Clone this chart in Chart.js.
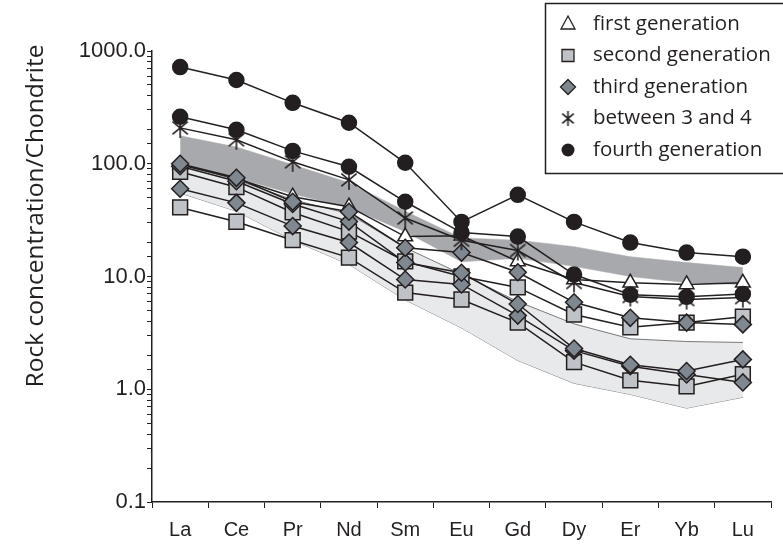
<!DOCTYPE html>
<html>
<head>
<meta charset="utf-8">
<script src="https://cdn.jsdelivr.net/npm/chart.js@4.4.1/dist/chart.umd.min.js"></script>
<style>
  html, body { margin: 0; padding: 0; background: #fff; }
</style>
</head>
<body>
<canvas id="myChart" width="783" height="550"></canvas>
<script>
// x-axis labels
var elements = ['La', 'Ce', 'Pr', 'Nd', 'Sm', 'Eu', 'Gd', 'Dy', 'Er', 'Yb', 'Lu'];

// shaded ranges
var darkTop    = [177, 141, 98, 68, 38, 22, 21, 18.4, 15, 13.3, 12];
var darkBottom = [98, 75, 54, 41, 25, 13.5, 14.5, 12.3, 10, 8.8, 8.5];
var lightTop    = [100, 72, 48, 36, 18, 10.5, 6, 3.8, 2.8, 2.65, 2.6];
var lightBottom = [55, 38, 21, 12.8, 6.2, 3.5, 1.8, 1.13, 0.9, 0.68, 0.85];

// first generation
var first1 = [98, 74, 51, 41.6, 22.6, 23, 13.6, 9.4, 8.8, 8.5, 8.8];
// second generation
var second1 = [85, 62, 37, 25, 13.6, 10, 8, 4.6, 3.55, 3.9, 4.4];
var second2 = [41, 30.6, 21, 14.7, 7.2, 6.25, 3.9, 1.74, 1.2, 1.06, 1.36];
// third generation
var third1 = [100, 75, 46, 37.5, 18, 16.3, 10.9, 5.9, 4.3, 3.9, 3.76];
var third2 = [95, 70, 44, 30.7, 13.3, 10.8, 5.7, 2.3, 1.65, 1.45, 1.84];
var third3 = [60, 45, 28, 20, 9.4, 8.5, 4.5, 2.2, 1.6, 1.35, 1.15];
// between 3 and 4
var between1 = [208, 163, 104, 72, 33, 21, 17, 8.85, 6.65, 6.25, 6.5];
// fourth generation
var fourth1 = [720, 553, 347, 231, 102, 30.5, 53, 30.5, 20, 16.3, 15];
var fourth2 = [261, 200, 130, 94, 46, 24.5, 22.6, 10.4, 6.9, 6.6, 7.0];

var INK = '#231f20';
var SQUARE = '#bfc2c7';
var DIAMOND = '#7f8890';

// six-armed asterisk marker
function makeAsterisk(size, lw) {
  var c = document.createElement('canvas');
  c.width = c.height = size;
  var g = c.getContext('2d');
  var m = size / 2, r = size / 2 - 1;
  var dx = r * Math.cos(Math.PI / 4.5), dy = r * Math.sin(Math.PI / 4.5);
  g.strokeStyle = INK;
  g.lineWidth = lw;
  g.beginPath();
  g.moveTo(m, m - r); g.lineTo(m, m + r);
  g.moveTo(m - dx, m - dy); g.lineTo(m + dx, m + dy);
  g.moveTo(m + dx, m - dy); g.lineTo(m - dx, m + dy);
  g.stroke();
  return c;
}
var asterisk = makeAsterisk(22, 1.6);
var asteriskSmall = makeAsterisk(17, 1.6);

var markers = {
  first:   { pointStyle: 'triangle', pointRadius: 8.5, pointBackgroundColor: '#ffffff' },
  second:  { pointStyle: 'rect', pointRadius: 10.5, pointBackgroundColor: SQUARE },
  third:   { pointStyle: 'rectRot', pointRadius: 8.5, pointBackgroundColor: DIAMOND },
  between: { pointStyle: asterisk, pointRadius: 10, pointBackgroundColor: INK },
  fourth:  { pointStyle: 'circle', pointRadius: 7.5, pointBackgroundColor: INK }
};

var groups = [
  ['first', [first1]],
  ['second', [second1, second2]],
  ['third', [third1, third2, third3]],
  ['between', [between1]],
  ['fourth', [fourth1, fourth2]]
];

var datasets = [
  { data: darkTop, fill: '+1', backgroundColor: '#a7a9ac', borderColor: '#a7a9ac', borderWidth: 0.5, pointRadius: 0, order: 9 },
  { data: darkBottom, fill: false, borderColor: '#a7a9ac', borderWidth: 0.5, pointRadius: 0, order: 9 },
  { data: lightTop, fill: '+1', backgroundColor: '#e8e9ea', borderColor: '#58595b', borderWidth: 0.8, pointRadius: 0, order: 10 },
  { data: lightBottom, fill: false, borderColor: '#58595b', borderWidth: 0.8, pointRadius: 0, order: 10 }
];

groups.forEach(function (grp, gi) {
  var m = markers[grp[0]];
  grp[1].forEach(function (vals) {
    // line only
    datasets.push({ data: vals, borderColor: INK, borderWidth: 1.5, pointRadius: 0, fill: false, order: 6 });
    // markers on top, later generations above earlier ones
    datasets.push({
      data: vals, showLine: false, fill: false,
      pointStyle: m.pointStyle, pointRadius: m.pointRadius,
      pointBackgroundColor: m.pointBackgroundColor,
      pointBorderColor: INK, pointBorderWidth: 1.5, order: 5 - gi
    });
  });
});

function drawSymbol(ctx, kind, x, y) {
  ctx.save();
  ctx.strokeStyle = INK;
  ctx.lineWidth = 1.3;
  ctx.beginPath();
  if (kind === 'first') {
    ctx.moveTo(x, y - 8); ctx.lineTo(x + 7, y + 5); ctx.lineTo(x - 7, y + 5); ctx.closePath();
    ctx.fillStyle = '#fff'; ctx.fill(); ctx.stroke();
  } else if (kind === 'second') {
    ctx.rect(x - 6, y - 6, 12, 12);
    ctx.fillStyle = SQUARE; ctx.fill(); ctx.stroke();
  } else if (kind === 'third') {
    ctx.moveTo(x, y - 7.5); ctx.lineTo(x + 7.5, y); ctx.lineTo(x, y + 7.5); ctx.lineTo(x - 7.5, y); ctx.closePath();
    ctx.fillStyle = DIAMOND; ctx.fill(); ctx.stroke();
  } else if (kind === 'between') {
    ctx.drawImage(asteriskSmall, x - 8.5, y - 8.5);
  } else {
    ctx.arc(x, y, 6.5, 0, Math.PI * 2);
    ctx.fillStyle = INK; ctx.fill();
  }
  ctx.restore();
}

var legendNames = {
  first: 'first generation', second: 'second generation', third: 'third generation',
  between: 'between 3 and 4', fourth: 'fourth generation'
};

var extras = {
  id: 'extras',
  afterDraw: function (chart) {
    var ctx = chart.ctx;
    ctx.save();
    // y title
    ctx.fillStyle = INK;
    ctx.font = '24.5px "Open Sans"';
    ctx.textAlign = 'center';
    ctx.textBaseline = 'middle';
    ctx.translate(36, 216);
    ctx.rotate(-Math.PI / 2);
    ctx.fillText('Rock concentration/Chondrite', 0, 0);
    ctx.restore();

    // legend box
    ctx.save();
    ctx.fillStyle = '#fff';
    ctx.fillRect(545, 3, 260, 171);
    ctx.strokeStyle = INK;
    ctx.lineWidth = 1.5;
    ctx.strokeRect(545.5, 3.5, 260, 170);
    ctx.font = '20.5px "Open Sans"';
    ctx.fillStyle = INK;
    ctx.textAlign = 'left';
    ctx.textBaseline = 'middle';
    groups.forEach(function (grp, i) {
      var y = 24 + i * 31.5;
      drawSymbol(ctx, grp[0], 568, y);
      ctx.fillText(legendNames[grp[0]], 593, y);
    });
    ctx.restore();
  }
};

new Chart(document.getElementById('myChart'), {
  type: 'line',
  data: { labels: elements, datasets: datasets },
  options: {
    responsive: false,
    animation: false,
    layout: { padding: { top: 51, right: 5, left: 0, bottom: 0 } },
    elements: { line: { tension: 0 } },
    plugins: { legend: { display: false }, tooltip: { enabled: false } },
    scales: {
      x: {
        type: 'category',
        offset: true,
        grid: { display: true, offset: true, drawOnChartArea: false, drawTicks: true, tickLength: 6, color: INK },
        border: { display: true, color: INK, width: 1.5 },
        ticks: { color: INK, font: { family: '"Liberation Sans", Arial', size: 20 }, padding: 10, maxRotation: 0 },
        afterFit: function (s) { s.height = 48; }
      },
      y: {
        type: 'logarithmic',
        min: 0.1,
        max: 1000,
        grid: { display: true, drawOnChartArea: false, drawTicks: true, tickLength: 5, color: INK },
        border: { display: true, color: INK, width: 1.5 },
        ticks: {
          autoSkip: false,
          color: INK,
          padding: 1,
          font: { family: '"Liberation Sans", Arial', size: 22 },
          callback: function (v) {
            var l = Math.log10(v);
            return Math.abs(l - Math.round(l)) < 1e-6 ? Number(v).toFixed(1) : '';
          }
        },
        afterFit: function (s) { s.width = 152; }
      }
    }
  },
  plugins: [extras]
});
</script>
</body>
</html>
